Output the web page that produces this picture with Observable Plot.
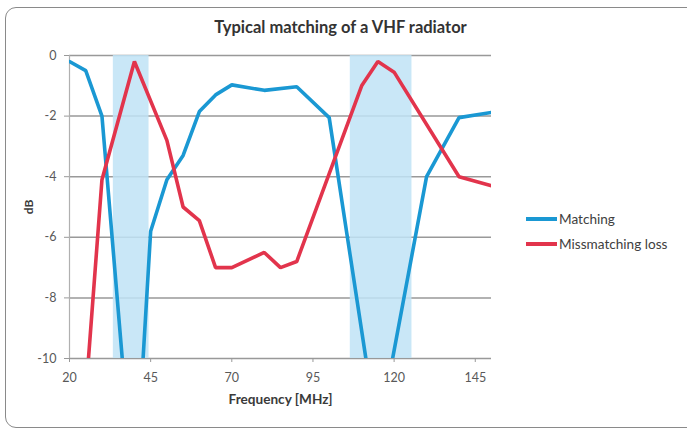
<!DOCTYPE html>
<html>
<head>
<meta charset="utf-8">
<script src="https://cdn.jsdelivr.net/npm/d3@7"></script>
<script src="https://cdn.jsdelivr.net/npm/@observablehq/plot@0.6"></script>
<style>
  body { margin: 0; background: #fff; font-family: Lato, "Open Sans", sans-serif; }
  #wrap { position: relative; width: 687px; height: 430px; overflow: hidden; }
  #frame { position: absolute; left: 5px; top: 7px; width: 720px; height: 421px; border: 1.6px solid #8a8a8a; border-radius: 11px; box-sizing: border-box; }
  #title { position: absolute; left: 0; width: 681px; top: 17px; text-align: center; font-weight: bold; font-size: 16.5px; line-height: 20px; color: #333; }
  #chart { position: absolute; left: 0; top: 0; }
  .leg { position: absolute; left: 526px; height: 16px; font-size: 13.6px; color: #404040; display: flex; align-items: center; }
  .leg span.sw { display: inline-block; width: 31px; height: 3.5px; margin-right: 2px; }
  #chart g[aria-label="x-axis label"] text { font-weight: bold; fill: #3a3a3a; font-size: 13.6px; }
  #chart g[aria-label="y-axis label"] text { font-weight: bold; fill: #3a3a3a; font-size: 12px; }
</style>
</head>
<body>
<div id="wrap">
  <div id="frame"></div>
  <div id="title">Typical matching of a VHF radiator</div>
  <div id="chart"></div>
  <div class="leg" style="top:211px"><span class="sw" style="background:#1a98d3"></span>Matching</div>
  <div class="leg" style="top:236px"><span class="sw" style="background:#e2344c"></span>Missmatching loss</div>
</div>
<script>
// Data
const freqMatching = [20, 25, 30, 40, 45, 50, 55, 60, 65, 70, 80, 90, 100, 115, 130, 140, 150];
const matching     = [-0.2, -0.5, -2.0, -14.8, -5.8, -4.1, -3.3, -1.85, -1.3, -0.97, -1.15, -1.03, -2.05, -12.6, -4.0, -2.05, -1.88];
const freqLoss     = [25, 30, 40, 50, 55, 60, 65, 70, 80, 85, 90, 110, 115, 120, 140, 150];
const loss         = [-11.2, -4.1, -0.2, -2.8, -5.0, -5.45, -7.0, -7.0, -6.5, -7.0, -6.8, -1.0, -0.2, -0.55, -4.0, -4.3];
const bandStart    = [33.5, 106.5];
const bandEnd      = [44.5, 125.5];
const xTicks       = [20, 45, 70, 95, 120, 145];
const yTicks       = [0, -2, -4, -6, -8, -10];

const matchData = freqMatching.map((f, i) => ({f, v: matching[i]}));
const lossData  = freqLoss.map((f, i) => ({f, v: loss[i]}));
const bands     = bandStart.map((s, i) => ({s, e: bandEnd[i]}));

const chart = Plot.plot({
  width: 687,
  height: 430,
  marginLeft: 69,
  marginRight: 196,
  marginTop: 55,
  marginBottom: 72,
  style: {fontFamily: "Lato, 'Open Sans', sans-serif", fontSize: "12.5px", color: "#595959", background: "transparent"},
  x: {domain: [20, 150]},
  y: {domain: [-10, 0]},
  marks: [
    Plot.gridY(yTicks, {stroke: "#999", strokeOpacity: 1, strokeWidth: 1.5}),
    Plot.rect(bands, {x1: "s", x2: "e", fill: "#bfe3f6", fillOpacity: 0.85}),
    Plot.ruleX([20], {stroke: "#b0b0b0", strokeWidth: 1.2}),
    Plot.axisY({ticks: yTicks, tickSize: 5, tickPadding: 8, fontSize: 12.5, stroke: "#999",
      tickFormat: d => String(d),
      label: "dB", labelAnchor: "center", labelArrow: "none", labelOffset: 45}),
    Plot.axisX({ticks: xTicks, tickSize: 4, tickPadding: 11, fontSize: 12.5, stroke: "#999",
      tickFormat: d => String(d),
      label: "Frequency [MHz]", labelAnchor: "center", labelArrow: "none", labelOffset: 45}),
    Plot.line(matchData, {x: "f", y: "v", stroke: "#1a98d3", strokeWidth: 3.6, strokeLinejoin: "miter", clip: true}),
    Plot.line(lossData, {x: "f", y: "v", stroke: "#e2344c", strokeWidth: 3.6, strokeLinejoin: "miter", clip: true})
  ]
});
document.getElementById("chart").appendChild(chart);
</script>
</body>
</html>
